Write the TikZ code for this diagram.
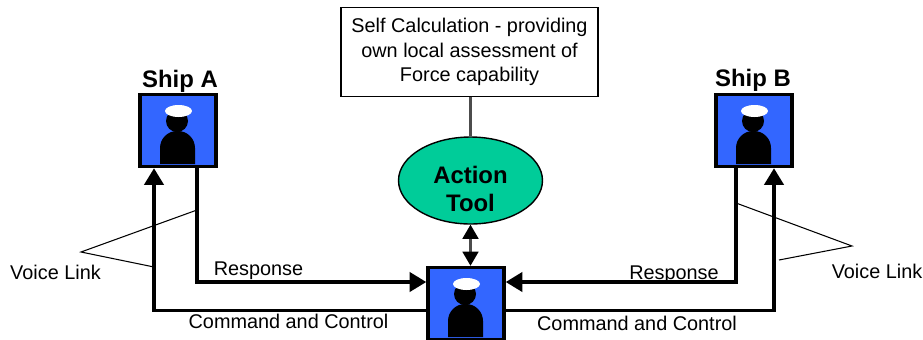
\documentclass[tikz,border=0pt]{standalone}
\usepackage{fontspec}
\setmainfont{Liberation Sans}
\usetikzlibrary{calc,arrows.meta,shapes.geometric}
\definecolor{shipblue}{HTML}{3366FF}
\definecolor{toolgreen}{HTML}{00CC99}

\begin{document}
\begin{tikzpicture}[x=0.02cm,y=-0.02cm,font=\fontsize{11.3}{13.8}\selectfont]

\tikzset{shipnode/.style={draw=black,fill=shipblue,line width=2pt,minimum width=1.52cm,minimum height=1.44cm,inner sep=0pt},
titlenode/.style={font=\fontsize{13.6}{16}\selectfont\bfseries,inner sep=0pt},
labelnode/.style={inner sep=0pt},
heavyline/.style={line width=1.9pt,-{Triangle[length=9.5pt,width=11pt]}},
voiceline/.style={line width=0.6pt}}

\useasboundingbox (0,0) rectangle (923,339);

% Ships and hub
\node[shipnode] (shipA) at (178,130.5) {};
\node[shipnode] (shipB) at (754,130.5) {};
\node[shipnode] (hub) at (466,303.5) {};

% Officer icons
\foreach \s in {shipA,shipB,hub} {
\begin{scope}[shift={(\s.center)}]
\fill[black] (-18,33.5) [rounded corners=0.34cm] -- (-18,0.5) -- (17,0.5) [sharp corners] -- (17,33.5) -- cycle;
\fill[black] (-1,-9.5) circle (11);
\fill[white] (0.5,-19.5) ellipse (13.5 and 6);
\end{scope}
}

% Titles
\node[titlenode] (titleA) at (180,81) {Ship A};
\node[titlenode] (titleB) at (753,80) {Ship B};

% Calculation box and tool
\node[draw=black,line width=0.7pt,minimum width=5.14cm,minimum height=1.77cm,inner sep=0pt,align=center] (calc) at (469.5,52) {Self Calculation - providing\\own local assessment of\\Force capability};
\node[ellipse,draw=black,line width=0.8pt,fill=toolgreen,minimum width=2.88cm,minimum height=1.74cm,inner sep=0pt] (tool) at (470.5,180.5) {};
\node[inner sep=0pt,align=center,font=\fontsize{13.6}{15.6}\selectfont\bfseries] (toolLabel) at (470.5,189) {Action\\Tool};

% Edges
\draw[line width=1.2pt,black!70] (calc.south -| tool.north) -- (tool.north);
\draw[line width=1.2pt,black!70,{Triangle[length=8pt,width=9pt,black]}-{Triangle[length=8pt,width=9pt,black]}] (tool.south) -- (hub.north -| tool.south);
\draw[heavyline] ($(shipA.south)+(19,0)$) |- ($(hub.west)+(0,-21.5)$);
\draw[heavyline] ($(shipB.south)+(-18,0)$) |- ($(hub.east)+(0,-21.5)$);
\draw[heavyline] ($(hub.west)+(0,7)$) -| ($(shipA.south)+(-24,0)$);
\draw[heavyline] ($(hub.east)+(0,7)$) -| ($(shipB.south)+(20,0)$);

% Voice links
\coordinate (apexA) at (81,252);
\coordinate (apexB) at (852,246);
\draw[voiceline] (197,210) -- (apexA) -- (154,267);
\draw[voiceline] (736,203) -- (apexB) -- (779,260);

% Labels
\node[labelnode] (voiceA) at (55.5,272) {Voice Link};
\node[labelnode] (voiceB) at (877,271) {Voice Link};
\node[labelnode] (respA) at (258.5,271) {Response};
\node[labelnode] (respB) at (674,275) {Response};
\node[labelnode] (cmdA) at (288.5,321) {Command and Control};
\node[labelnode] (cmdB) at (637,323) {Command and Control};

\end{tikzpicture}
\end{document}
